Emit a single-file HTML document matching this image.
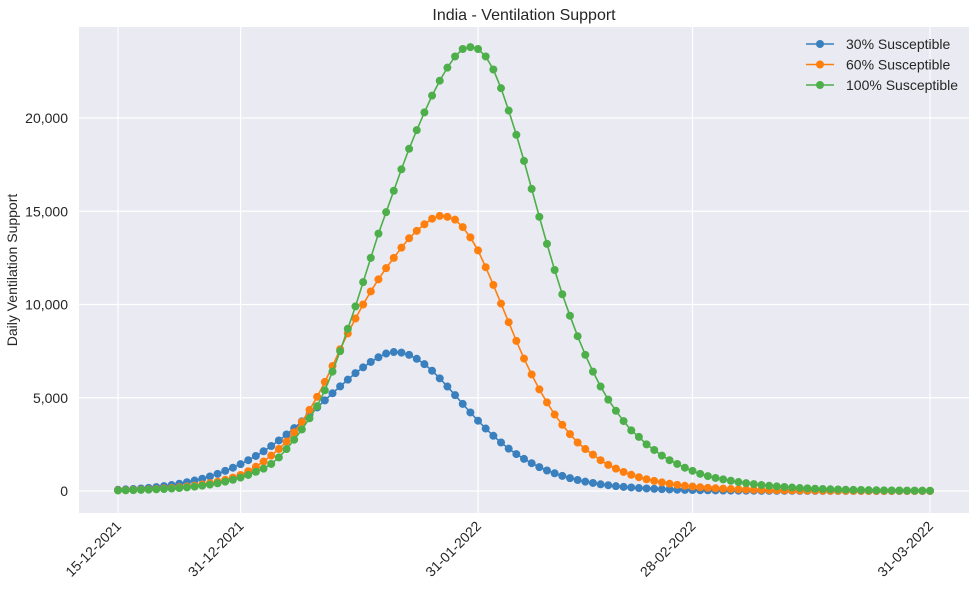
<!DOCTYPE html>
<html><head><meta charset="utf-8"><style>
body{margin:0;background:#fff;}
svg text{font-family:"Liberation Sans",Arial,sans-serif;fill:#262626;}
</style></head><body>
<svg id="chart" width="977" height="591" xmlns="http://www.w3.org/2000/svg">
<rect x="79" y="27" width="890" height="486" fill="#EAEAF2"/>
<g id="grid"></g><g id="series"></g><g id="axes"></g>
<text x="524" y="20" text-anchor="middle" font-size="16">India - Ventilation Support</text>
<text transform="translate(17,270) rotate(-90)" text-anchor="middle" font-size="14">Daily Ventilation Support</text>
<g id="legend"></g>
</svg>
<script>
const dateLabels = ["15-12-2021","31-12-2021","31-01-2022","28-02-2022","31-03-2022"];
const dateDays = [0,16,47,75,106];
const yTicks = [0,5000,10000,15000,20000];
const seriesNames = ["30% Susceptible","60% Susceptible","100% Susceptible"];
const blue = [65,85,105,135,170,210,260,320,390,470,560,660,780,920,1080,1250,1440,1650,1880,2130,2410,2710,3030,3370,3730,4100,4480,4860,5240,5610,5970,6320,6630,6920,7170,7370,7450,7420,
7300,7090,6800,6450,6040,5600,5140,4670,4210,3770,3350,2960,2600,2270,1980,1720,1490,1280,1100,950,810,690,590,500,430,360,310,260,220,190,160,135,115,98,83,70,60,51,43,37,31,27,23,20,17,15,13,11,10,9,8,7,6,6,5,5,4,4,4,3,3,3,3,2,2,2,2,2,2];
const orange = [40,50,60,75,90,110,135,165,200,240,290,350,420,500,600,720,860,1060,1300,1580,
1900,2250,2650,3150,3700,4350,5050,5850,6700,7600,8450,9250,10000,10700,11350,11950,12500,13050,13550,13950,14300,14600,14750,14700,14550,14150,13600,12900,12000,11050,10050,9050,8050,7100,6250,5450,4750,4100,3550,3050,2600,2250,1950,1650,1400,1200,1020,870,740,630,540,460,390,330,280,240,200,170,145,125,105,
90,77,66,56,48,41,35,30,26,22,19,16,14,12,10,9,8,7,6,5,4,4,3,3,3,2];
const green = [30,38,47,58,72,88,108,132,160,195,235,285,345,415,500,600,720,860,1030,1200,
1450,1800,2250,2750,3300,3900,4550,5400,6400,7500,8700,9900,11200,12500,13800,14950,16100,17250,18350,19350,20300,21200,22000,22700,23300,23700,23800,23700,23300,22600,21600,20400,19100,17700,16200,14700,13250,11850,10550,9400,8300,7300,6400,5600,4900,4300,3750,3250,2900,2500,2200,1900,1650,1450,1250,1080,920,800,700,620,550,
480,420,370,320,280,245,215,185,160,140,120,105,92,80,70,61,53,46,40,35,30,26,23,20,17,15];
const colors = ["#3A80BE","#FF7F0E","#4DAF4A"];
const NS="http://www.w3.org/2000/svg";
const xS = d => 118 + d*(812/106);
const yS = v => 491 - v*(373/20000);
function mk(tag, attrs, parent){const e=document.createElementNS(NS,tag);for(const k in attrs)e.setAttribute(k,attrs[k]);parent.appendChild(e);return e;}
const grid=document.getElementById('grid'), axes=document.getElementById('axes'), ser=document.getElementById('series'), leg=document.getElementById('legend');
dateDays.forEach((d,i)=>{
  const l=mk('line',{x1:xS(d),x2:xS(d),y1:27,y2:513,stroke:'#fff','stroke-width':1.2},grid);
  
  
  const t=mk('text',{transform:`translate(${xS(d)+4},${527}) rotate(-45)`,'text-anchor':'end','font-size':14},axes);
  t.textContent=dateLabels[i];
  
  
});
yTicks.forEach(v=>{
  const l=mk('line',{x1:79,x2:969,y1:yS(v),y2:yS(v),stroke:'#fff','stroke-width':1.2},grid);
  
  
  const t=mk('text',{x:68,y:yS(v)+5,'text-anchor':'end','font-size':14},axes);
  t.textContent=v.toLocaleString('en-US');
  
  
});
[blue,orange,green].forEach((s,si)=>{
  const g=mk('g',{},ser);
  
  
  const p=mk('polyline',{points:s.map((v,d)=>xS(d)+','+yS(v)).join(' '),fill:'none',stroke:colors[si],'stroke-width':1.6},g);
  
  
  s.forEach((v,d)=>{
    const c=mk('circle',{cx:xS(d),cy:yS(v),r:4,fill:colors[si]},g);
    
    
  });
  const y=44+si*20.5;
  const ll=mk('line',{x1:806,x2:834,y1:y,y2:y,stroke:colors[si],'stroke-width':1.6},leg);
  
  
  const lc=mk('circle',{cx:820,cy:y,r:4,fill:colors[si]},leg);
  
  
  const lt=mk('text',{x:846,y:y+5,'font-size':14},leg);
  lt.textContent=seriesNames[si];
  
  
});
</script>
</body></html>
